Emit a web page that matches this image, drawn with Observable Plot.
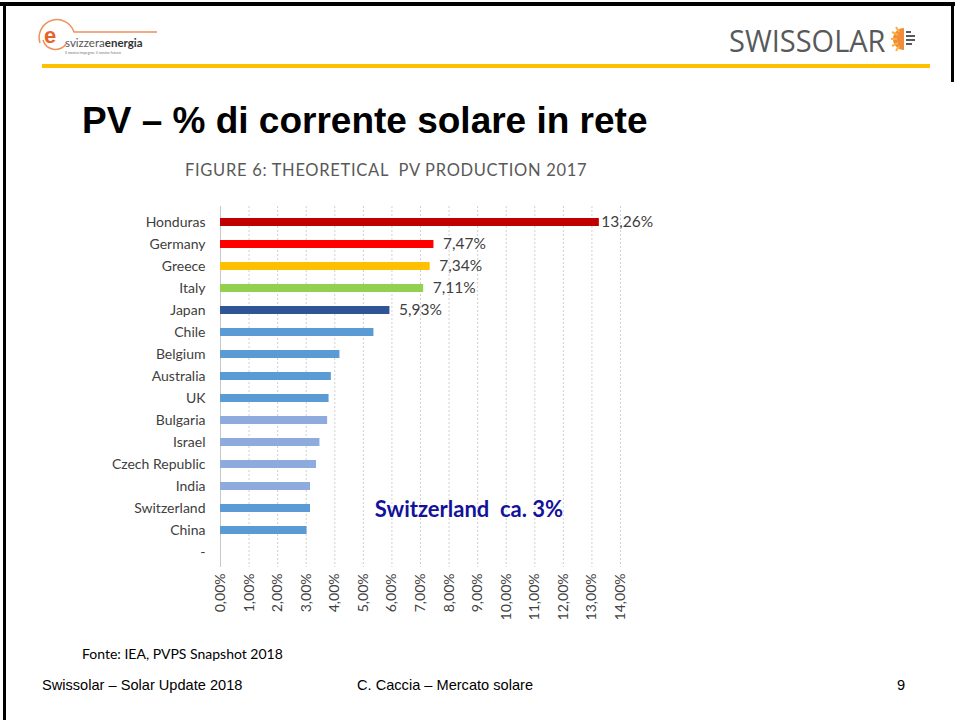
<!DOCTYPE html>
<html>
<head>
<meta charset="utf-8">
<script src="https://cdn.jsdelivr.net/npm/d3@7"></script>
<script src="https://cdn.jsdelivr.net/npm/@observablehq/plot@0.6"></script>
<style>
  html, body { margin: 0; padding: 0; background: #fff; }
  #page { position: relative; width: 955px; height: 720px; overflow: hidden; background: #fff; font-family: "Liberation Sans", Arial, sans-serif; }
  .abs { position: absolute; white-space: nowrap; }
  #chartwrap { position: absolute; left: 100px; top: 195px; width: 600px; height: 440px; }
</style>
</head>
<body>
<div id="page">
  <!-- slide frame -->
  <div class="abs" style="left:0;top:2px;width:955px;height:4px;background:#000;"></div>
  <div class="abs" style="left:3px;top:2px;width:3px;height:718px;background:#000;"></div>
  <div class="abs" style="left:951px;top:2px;width:3px;height:80px;background:#000;"></div>

  <!-- left logo -->
  <svg class="abs" style="left:30px;top:10px;" width="140" height="52">
    <path d="M10 33 A17 17 0 0 1 44 22 L127 22" fill="none" stroke="#f0905a" stroke-width="1.5"/>
    <path d="M13 30 A13 13 0 0 0 36 34" fill="none" stroke="#f0905a" stroke-width="1.5"/>
    <text x="20" y="33" text-anchor="middle" font-family="Liberation Sans" font-weight="bold" font-size="22" fill="#e8622a">e</text>
    <text x="35" y="37" font-family="Lato" font-size="11.5" fill="#555">svizzera<tspan font-weight="bold" fill="#333">energia</tspan></text>
    <text x="35" y="44" font-family="Lato" font-size="3.8" fill="#777">Il nostro impegno: il nostro futuro</text>
  </svg>

  <!-- right logo -->
  <div class="abs" style="left:729px;top:19px;font-family:'Open Sans',sans-serif;font-size:29px;color:#58595b;transform:scaleY(1.08);transform-origin:left top;">SWISSOLAR</div>
  <svg class="abs" style="left:891px;top:26px;" width="26" height="26">
    <path d="M13 2 A11 11 0 0 0 13 24 Z" fill="#f08c3a"/>
    <g stroke="#fbb040" stroke-width="2">
      <line x1="1" y1="6" x2="7" y2="9"/><line x1="0" y1="13" x2="6" y2="13"/><line x1="1" y1="20" x2="7" y2="17"/>
      <line x1="5" y1="1" x2="8" y2="6"/><line x1="5" y1="25" x2="8" y2="20"/>
    </g>
    <g stroke="#58595b" stroke-width="2">
      <line x1="15" y1="6" x2="20" y2="6"/><line x1="15" y1="10" x2="24" y2="10"/><line x1="15" y1="14" x2="24" y2="14"/><line x1="15" y1="18" x2="21" y2="18"/>
    </g>
  </svg>

  <!-- header rule -->
  <div class="abs" style="left:42px;top:64px;width:888px;height:4px;background:#FFC000;"></div>

  <!-- slide title -->
  <div class="abs" style="left:82px;top:100px;font-family:'Liberation Sans',Arial,sans-serif;font-weight:bold;font-size:37px;color:#000;">PV – % di corrente solare in rete</div>

  <!-- chart title -->
  <div class="abs" style="left:185px;top:160px;width:395px;text-align:center;font-family:Lato,sans-serif;font-size:16.5px;color:#595959;letter-spacing:0.7px;">FIGURE 6: THEORETICAL&nbsp; PV PRODUCTION 2017</div>

  <div id="chartwrap"></div>

  <!-- source + footer -->
  <div class="abs" style="left:82px;top:645px;font-family:Lato,sans-serif;font-size:14px;color:#000;">Fonte: IEA, PVPS Snapshot 2018</div>
  <div class="abs" style="left:42px;top:677px;font-family:'Liberation Sans',Arial,sans-serif;font-size:14.6px;color:#000;">Swissolar – Solar Update 2018</div>
  <div class="abs" style="left:357px;top:677px;font-family:'Liberation Sans',Arial,sans-serif;font-size:14.6px;color:#000;">C. Caccia – Mercato solare</div>
  <div class="abs" style="left:897px;top:677px;font-family:'Liberation Sans',Arial,sans-serif;font-size:14.6px;color:#000;">9</div>
</div>

<script>
// ---- data ----
const countries = ["Honduras", "Germany", "Greece", "Italy", "Japan", "Chile", "Belgium", "Australia", "UK", "Bulgaria", "Israel", "Czech Republic", "India", "Switzerland", "China"];
const values = [13.26, 7.47, 7.34, 7.11, 5.93, 5.37, 4.18, 3.88, 3.80, 3.75, 3.48, 3.36, 3.15, 3.15, 3.03];
const barColors = ["#C00000", "#FF0000", "#FFC000", "#92D050", "#2F5597", "#5B9BD5", "#5B9BD5", "#5B9BD5", "#5B9BD5", "#8FAADC", "#8FAADC", "#8FAADC", "#8FAADC", "#5B9BD5", "#5B9BD5"];
const valueLabels = ["13,26%", "7,47%", "7,34%", "7,11%", "5,93%"];
const blankCategory = "-";
const xTicks = [0, 1, 2, 3, 4, 5, 6, 7, 8, 9, 10, 11, 12, 13, 14];
const annotationText = "Switzerland  ca. 3%";
const annotationAt = {country: "Switzerland", value: 5.4};

const rows = countries.map((c, i) => ({country: c, value: values[i], color: barColors[i], label: valueLabels[i] || null}));
const yDomain = [...countries, blankCategory];
const fmt = d => d.toFixed(2).replace(".", ",") + "%";

const chart = Plot.plot({
  width: 600,
  height: 440,
  marginLeft: 120,
  marginRight: 80,
  marginTop: 11,
  marginBottom: 68,
  style: {fontFamily: "Lato, sans-serif", fontSize: "14px", color: "#404040", background: "transparent", overflow: "visible"},
  x: {domain: [0, 14], ticks: xTicks, tickFormat: fmt, tickRotate: -90, tickSize: 0, tickPadding: 6, label: null},
  y: {domain: yDomain, padding: 0, tickSize: 0, tickPadding: 15, label: null},
  marks: [
    Plot.gridX(xTicks.filter(d => d > 0), {stroke: "#d0d0d0", strokeOpacity: 1, strokeDasharray: "2,2"}),
    Plot.ruleX([0], {stroke: "#c8c8c8", strokeWidth: 1}),
    Plot.barX(rows, {y: "country", x: "value", fill: "color", insetTop: 7, insetBottom: 7}),
    Plot.text(rows.filter(d => d.label && d.value > 10), {y: "country", x: "value", text: "label", textAnchor: "start", dx: 2, fontSize: 15.5, fill: "#404040"}),
    Plot.text(rows.filter(d => d.label && d.value <= 10), {y: "country", x: "value", text: "label", textAnchor: "start", dx: 9, fontSize: 15.5, fill: "#404040"}),
    Plot.text([annotationAt], {y: "country", x: "value", text: () => annotationText, textAnchor: "start", fontSize: 22, fontWeight: "bold", fill: "#12129a", dy: 1})
  ]
});
document.getElementById("chartwrap").appendChild(chart);
</script>
</body>
</html>
